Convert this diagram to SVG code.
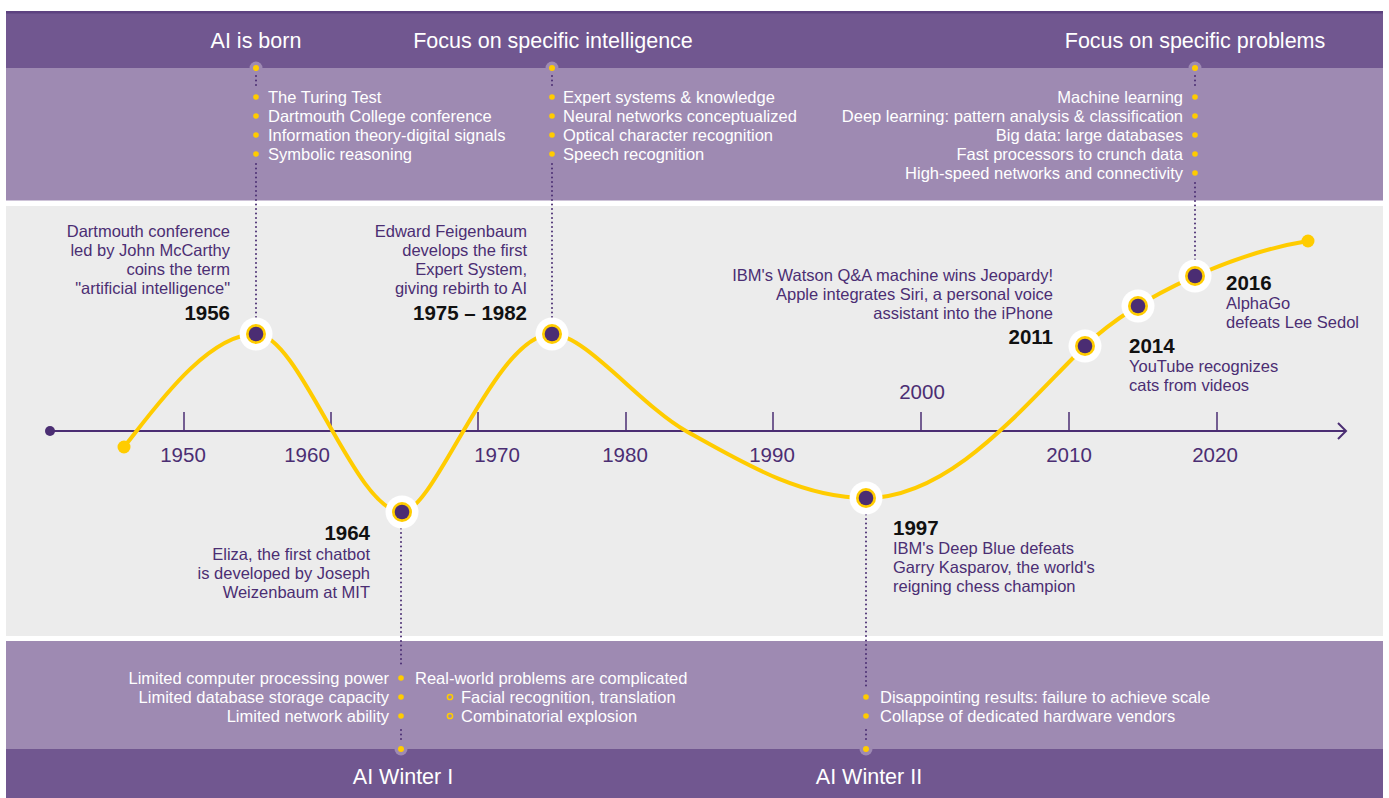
<svg xmlns="http://www.w3.org/2000/svg" width="1389" height="798" viewBox="0 0 1389 798">
<style>
text{font-family:"Liberation Sans",Arial,sans-serif}
.title{font-size:21.5px;fill:#ffffff;text-anchor:middle}
.bul{font-size:16.5px;fill:#ffffff}
.end{text-anchor:end}
.desc{font-size:16.5px;fill:#4b2e73}
.yr{font-size:20.5px;font-weight:bold;fill:#111111}
.ax{font-size:20.5px;fill:#4b2e73;text-anchor:middle}
.dot{stroke:#4b2e73;stroke-width:2;stroke-linecap:round;stroke-dasharray:0 4.5;fill:none}
.bd{fill:#ffcc00}
.hb{fill:none;stroke:#ffcc00;stroke-width:1.5}
.tab{fill:#9e8ab2}
.halo{fill:#ffffff}
.ring{fill:#ffcc00}
.core{fill:#4b2d73}
</style>
<defs>
<g id="node"><circle class="halo" r="16.5"/><circle class="ring" r="10"/><circle class="core" r="7.3"/></g>
</defs>
<rect width="1389" height="798" fill="#ffffff"/>
<!-- bands -->
<rect x="6" y="11" width="1377" height="57" fill="#715790"/>
<rect x="6" y="11" width="1377" height="2.5" fill="#5d4280"/>
<rect x="6" y="68" width="1377" height="132.5" fill="#9e8ab2"/>
<rect x="6" y="206" width="1377" height="430" fill="#ececec"/>
<rect x="6" y="641" width="1377" height="108" fill="#9e8ab2"/>
<rect x="6" y="749" width="1377" height="49" fill="#715790"/>

<!-- axis -->
<g id="axis">
<line x1="50" y1="431" x2="1346" y2="431" stroke="#4b2e73" stroke-width="2"/>
<polyline points="1338,423 1346,431 1338,439" fill="none" stroke="#4b2e73" stroke-width="2"/>
<circle cx="50" cy="431" r="5" fill="#4b2e73"/>
<g stroke="#4b2e73" stroke-width="1.5">
<line x1="184" y1="412" x2="184" y2="431"/>
<line x1="331" y1="412" x2="331" y2="431"/>
<line x1="478" y1="412" x2="478" y2="431"/>
<line x1="626" y1="412" x2="626" y2="431"/>
<line x1="773" y1="412" x2="773" y2="431"/>
<line x1="921" y1="412" x2="921" y2="431"/>
<line x1="1069" y1="412" x2="1069" y2="431"/>
<line x1="1217" y1="412" x2="1217" y2="431"/>
</g>
<text class="ax" x="183" y="462">1950</text>
<text class="ax" x="307" y="462">1960</text>
<text class="ax" x="497" y="462">1970</text>
<text class="ax" x="625" y="462">1980</text>
<text class="ax" x="772" y="462">1990</text>
<text class="ax" x="922" y="399">2000</text>
<text class="ax" x="1069" y="462">2010</text>
<text class="ax" x="1215" y="462">2020</text>
</g>

<!-- connectors -->
<g id="connectors">
<path d="M124,447 C150,415 205,334 256,334 C300,334 355,512 402,512 C435,512 495,334 552,334 C585,334 640,405 686,431 C740,461 800,498 866,498 C950,498 1020,410 1085,346 C1142,292 1240,252 1308,241" fill="none" stroke="#ffcc00" stroke-width="4"/>
<circle cx="124" cy="447" r="6.5" fill="#ffcc00"/>
<circle cx="1308" cy="241" r="6.5" fill="#ffcc00"/>
<line class="dot" x1="256" y1="76" x2="256" y2="88"/>
<line class="dot" x1="256" y1="164" x2="256" y2="322"/>
<line class="dot" x1="552" y1="76" x2="552" y2="88"/>
<line class="dot" x1="552" y1="164" x2="552" y2="322"/>
<line class="dot" x1="1195" y1="76" x2="1195" y2="88"/>
<line class="dot" x1="1195" y1="183" x2="1195" y2="264"/>
<line class="dot" x1="401" y1="524" x2="401" y2="668"/>
<line class="dot" x1="401" y1="730" x2="401" y2="742"/>
<line class="dot" x1="866" y1="510" x2="866" y2="688"/>
<line class="dot" x1="866" y1="730" x2="866" y2="742"/>
<circle class="tab" cx="256" cy="68" r="6.5"/><circle class="bd" cx="256" cy="68" r="3"/>
<circle class="tab" cx="552" cy="68" r="6.5"/><circle class="bd" cx="552" cy="68" r="3"/>
<circle class="tab" cx="1195" cy="68" r="6.5"/><circle class="bd" cx="1195" cy="68" r="3"/>
<circle class="tab" cx="401" cy="749" r="6.5"/><circle class="bd" cx="401" cy="749" r="3"/>
<circle class="tab" cx="866" cy="749" r="6.5"/><circle class="bd" cx="866" cy="749" r="3"/>
</g>

<!-- headers -->
<g id="era-ai-born">
<text class="title" x="256" y="48">AI is born</text>
<circle class="bd" cx="256" cy="97" r="2.8"/><circle class="bd" cx="256" cy="116" r="2.8"/><circle class="bd" cx="256" cy="135" r="2.8"/><circle class="bd" cx="256" cy="154" r="2.8"/>
<text class="bul"><tspan x="268" y="103">The Turing Test</tspan><tspan x="268" y="122">Dartmouth College conference</tspan><tspan x="268" y="141">Information theory-digital signals</tspan><tspan x="268" y="160">Symbolic reasoning</tspan></text>
</g>
<g id="era-specific-intelligence">
<text class="title" x="553" y="48">Focus on specific intelligence</text>
<circle class="bd" cx="552" cy="97" r="2.8"/><circle class="bd" cx="552" cy="116" r="2.8"/><circle class="bd" cx="552" cy="135" r="2.8"/><circle class="bd" cx="552" cy="154" r="2.8"/>
<text class="bul"><tspan x="563" y="103">Expert systems &amp; knowledge</tspan><tspan x="563" y="122">Neural networks conceptualized</tspan><tspan x="563" y="141">Optical character recognition</tspan><tspan x="563" y="160">Speech recognition</tspan></text>
</g>
<g id="era-specific-problems">
<text class="title" x="1195" y="48">Focus on specific problems</text>
<circle class="bd" cx="1195" cy="97" r="2.8"/><circle class="bd" cx="1195" cy="116" r="2.8"/><circle class="bd" cx="1195" cy="135" r="2.8"/><circle class="bd" cx="1195" cy="154" r="2.8"/><circle class="bd" cx="1195" cy="173" r="2.8"/>
<text class="bul end"><tspan x="1183" y="103">Machine learning</tspan><tspan x="1183" y="122">Deep learning: pattern analysis &amp; classification</tspan><tspan x="1183" y="141">Big data: large databases</tspan><tspan x="1183" y="160">Fast processors to crunch data</tspan><tspan x="1183" y="179">High-speed networks and connectivity</tspan></text>
</g>
<g id="era-winter-1">
<text class="title" x="403" y="784">AI Winter I</text>
<circle class="bd" cx="401" cy="678" r="2.8"/><circle class="bd" cx="401" cy="697" r="2.8"/><circle class="bd" cx="401" cy="716" r="2.8"/>
<text class="bul end"><tspan x="389" y="684">Limited computer processing power</tspan><tspan x="389" y="703">Limited database storage capacity</tspan><tspan x="389" y="722">Limited network ability</tspan></text>
<text class="bul" x="415" y="684">Real-world problems are complicated</text>
<circle class="hb" cx="450" cy="697" r="2.6"/><circle class="hb" cx="450" cy="716" r="2.6"/>
<text class="bul"><tspan x="461" y="703">Facial recognition, translation</tspan><tspan x="461" y="722">Combinatorial explosion</tspan></text>
</g>
<g id="era-winter-2">
<text class="title" x="869" y="784">AI Winter II</text>
<circle class="bd" cx="866" cy="697" r="2.8"/><circle class="bd" cx="866" cy="716" r="2.8"/>
<text class="bul"><tspan x="880" y="703">Disappointing results: failure to achieve scale</tspan><tspan x="880" y="722">Collapse of dedicated hardware vendors</tspan></text>
</g>

<!-- events -->
<g id="ev-1956">
<use href="#node" x="256" y="334"/>
<text class="desc end"><tspan x="230" y="237">Dartmouth conference</tspan><tspan x="230" y="256">led by John McCarthy</tspan><tspan x="230" y="275">coins the term</tspan><tspan x="230" y="294">"artificial intelligence"</tspan><tspan class="yr" x="230" y="320">1956</tspan></text>
</g>
<g id="ev-1964">
<use href="#node" x="402" y="512"/>
<text class="desc end"><tspan class="yr" x="370" y="539.5">1964</tspan><tspan x="370" y="560">Eliza, the first chatbot</tspan><tspan x="370" y="579">is developed by Joseph</tspan><tspan x="370" y="598">Weizenbaum at MIT</tspan></text>
</g>
<g id="ev-1975">
<use href="#node" x="552" y="334"/>
<text class="desc end"><tspan x="527" y="237">Edward Feigenbaum</tspan><tspan x="527" y="256">develops the first</tspan><tspan x="527" y="275">Expert System,</tspan><tspan x="527" y="294">giving rebirth to AI</tspan><tspan class="yr" x="527" y="320">1975 – 1982</tspan></text>
</g>
<g id="ev-1997">
<use href="#node" x="866" y="498"/>
<text class="desc"><tspan class="yr" x="893" y="534.5">1997</tspan><tspan x="893" y="554">IBM's Deep Blue defeats</tspan><tspan x="893" y="573">Garry Kasparov, the world's</tspan><tspan x="893" y="592">reigning chess champion</tspan></text>
</g>
<g id="ev-2011">
<use href="#node" x="1085" y="346"/>
<text class="desc end"><tspan x="1053" y="281">IBM's Watson Q&amp;A machine wins Jeopardy!</tspan><tspan x="1053" y="300">Apple integrates Siri, a personal voice</tspan><tspan x="1053" y="319">assistant into the iPhone</tspan><tspan class="yr" x="1053" y="344">2011</tspan></text>
</g>
<g id="ev-2014">
<use href="#node" x="1138" y="306"/>
<text class="desc"><tspan class="yr" x="1129" y="352.5">2014</tspan><tspan x="1129" y="372">YouTube recognizes</tspan><tspan x="1129" y="391">cats from videos</tspan></text>
</g>
<g id="ev-2016">
<use href="#node" x="1195" y="276"/>
<text class="desc"><tspan class="yr" x="1226" y="289.5">2016</tspan><tspan x="1226" y="309">AlphaGo</tspan><tspan x="1226" y="328">defeats Lee Sedol</tspan></text>
</g>
</svg>
